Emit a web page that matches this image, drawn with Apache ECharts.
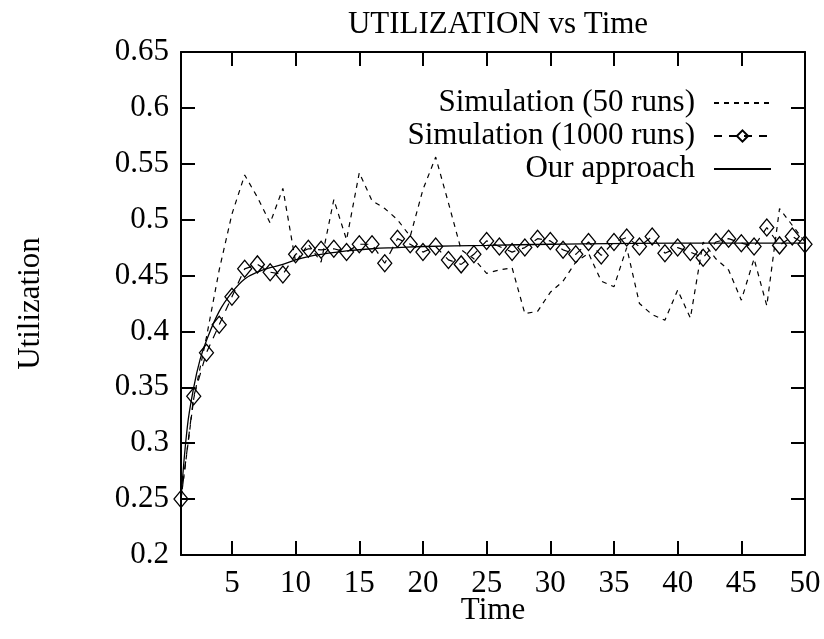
<!DOCTYPE html>
<html>
<head>
<meta charset="utf-8">
<script src="https://cdn.jsdelivr.net/npm/echarts@6/dist/echarts.min.js"></script>
<style>html,body{margin:0;padding:0;background:#fff;overflow:hidden;}#chart{width:824px;height:639px;}</style>
</head>
<body>
<div id="chart"></div>
<script>
const titleText = 'UTILIZATION vs Time';
const xName = 'Time';
const yName = 'Utilization';
const xTicks = [5, 10, 15, 20, 25, 30, 35, 40, 45, 50];
const yTicks = [0.2, 0.25, 0.3, 0.35, 0.4, 0.45, 0.5, 0.55, 0.6, 0.65];
const seriesNames = ['Simulation (50 runs)', 'Simulation (1000 runs)', 'Our approach'];

const timeSteps = [1,2,3,4,5,6,7,8,9,10,11,12,13,14,15,16,17,18,19,20,21,22,23,24,25,26,27,28,29,30,31,32,33,34,35,36,37,38,39,40,41,42,43,44,45,46,47,48,49,50];
const sim50 = [0.25,0.34,0.395,0.455,0.505,0.54,0.52,0.497,0.528,0.462,0.478,0.462,0.518,0.482,0.542,0.517,0.51,0.5,0.485,0.527,0.556,0.515,0.473,0.465,0.452,0.455,0.457,0.416,0.418,0.435,0.445,0.462,0.47,0.445,0.44,0.475,0.425,0.415,0.41,0.437,0.412,0.48,0.465,0.455,0.428,0.465,0.423,0.51,0.495,0.48];
const sim1000 = [0.25,0.342,0.381,0.406,0.431,0.456,0.46,0.453,0.451,0.469,0.474,0.473,0.474,0.471,0.478,0.478,0.461,0.483,0.478,0.471,0.476,0.464,0.46,0.469,0.481,0.476,0.471,0.475,0.483,0.481,0.473,0.469,0.48,0.468,0.48,0.484,0.476,0.485,0.47,0.475,0.471,0.466,0.48,0.483,0.479,0.476,0.493,0.477,0.485,0.478];
const modelTimes = [1,1.5,2,2.5,3,4,5,6,7,8,9,10,11,12,14,16,18,20,25,30,40,50];
const modelValues = [0.25,0.315,0.35,0.375,0.392,0.418,0.435,0.447,0.453,0.457,0.46,0.464,0.467,0.469,0.472,0.474,0.475,0.476,0.477,0.478,0.479,0.479];

const pairs = (xs, ys) => xs.map((x, i) => [x, ys[i]]);
const font = 'Liberation Serif';
const fs = 31;

const chart = echarts.init(document.getElementById('chart'), null, {renderer: 'canvas'});
const axisLine = {show: true, lineStyle: {color: '#000', width: 2}};
const tick = {show: true, inside: true, length: 14, lineStyle: {color: '#000', width: 2}};
const noMark = {opacity: 0, color: 'rgba(0,0,0,0)', borderWidth: 0};

chart.setOption({
  animation: false,
  backgroundColor: '#fff',
  title: {text: titleText, left: 493, textAlign: 'center', top: 4,
    textStyle: {fontFamily: font, fontSize: fs, fontWeight: 'normal', color: '#000'}},
  grid: {left: 181, right: 19, top: 52, bottom: 84, containLabel: false, outerBoundsMode: 'none'},
  legend: {
    orient: 'vertical', align: 'right', right: 52, top: 87, padding: 0,
    itemWidth: 57, itemHeight: 14, itemGap: 1,
    textStyle: {fontFamily: font, fontSize: fs, color: '#000', lineHeight: 32, padding: [0, 14, 0, 0]},
    data: [
      {name: seriesNames[0], itemStyle: noMark},
      {name: seriesNames[1]},
      {name: seriesNames[2], itemStyle: noMark}
    ]
  },
  xAxis: [
    {type: 'value', min: 1, max: 50, position: 'bottom',
      name: xName, nameLocation: 'middle', nameGap: 40, nameMoveOverlap: false,
      nameTextStyle: {fontFamily: font, fontSize: fs, color: '#000'},
      axisLine: axisLine, axisTick: Object.assign({customValues: xTicks}, tick),
      axisLabel: {customValues: xTicks, fontFamily: font, fontSize: fs, color: '#000', margin: 13},
      splitLine: {show: false}},
    {type: 'value', min: 1, max: 50, position: 'top',
      axisLine: axisLine, axisTick: Object.assign({customValues: xTicks}, tick),
      axisLabel: {show: false}, splitLine: {show: false}}
  ],
  yAxis: [
    {type: 'value', min: 0.2, max: 0.65, interval: 0.05, position: 'left',
      name: yName, nameLocation: 'middle', nameGap: 135, nameRotate: 90, nameMoveOverlap: false,
      nameTextStyle: {fontFamily: font, fontSize: fs, color: '#000'},
      axisLine: axisLine, axisTick: tick,
      axisLabel: {fontFamily: font, fontSize: fs, color: '#000', margin: 12},
      splitLine: {show: false}},
    {type: 'value', min: 0.2, max: 0.65, interval: 0.05, position: 'right',
      axisLine: axisLine, axisTick: tick, axisLabel: {show: false}, splitLine: {show: false}}
  ],
  series: [
    {name: seriesNames[0], type: 'line', data: pairs(timeSteps, sim50), symbol: 'none',
      lineStyle: {color: '#000', width: 1.2, type: [5, 5]}, itemStyle: noMark, z: 2},
    {name: seriesNames[1], type: 'line', data: pairs(timeSteps, sim1000), symbol: 'diamond', symbolSize: [14, 17],
      showAllSymbol: true,
      lineStyle: {color: '#000', width: 1.2, type: [8, 7]},
      itemStyle: {color: 'rgba(0,0,0,0)', borderColor: '#000', borderWidth: 1.3}, z: 3},
    {name: seriesNames[2], type: 'line', data: pairs(modelTimes, modelValues), symbol: 'none', smooth: 0.4,
      lineStyle: {color: '#000', width: 1.3}, itemStyle: noMark, z: 4}
  ]
});
</script>
</body>
</html>
